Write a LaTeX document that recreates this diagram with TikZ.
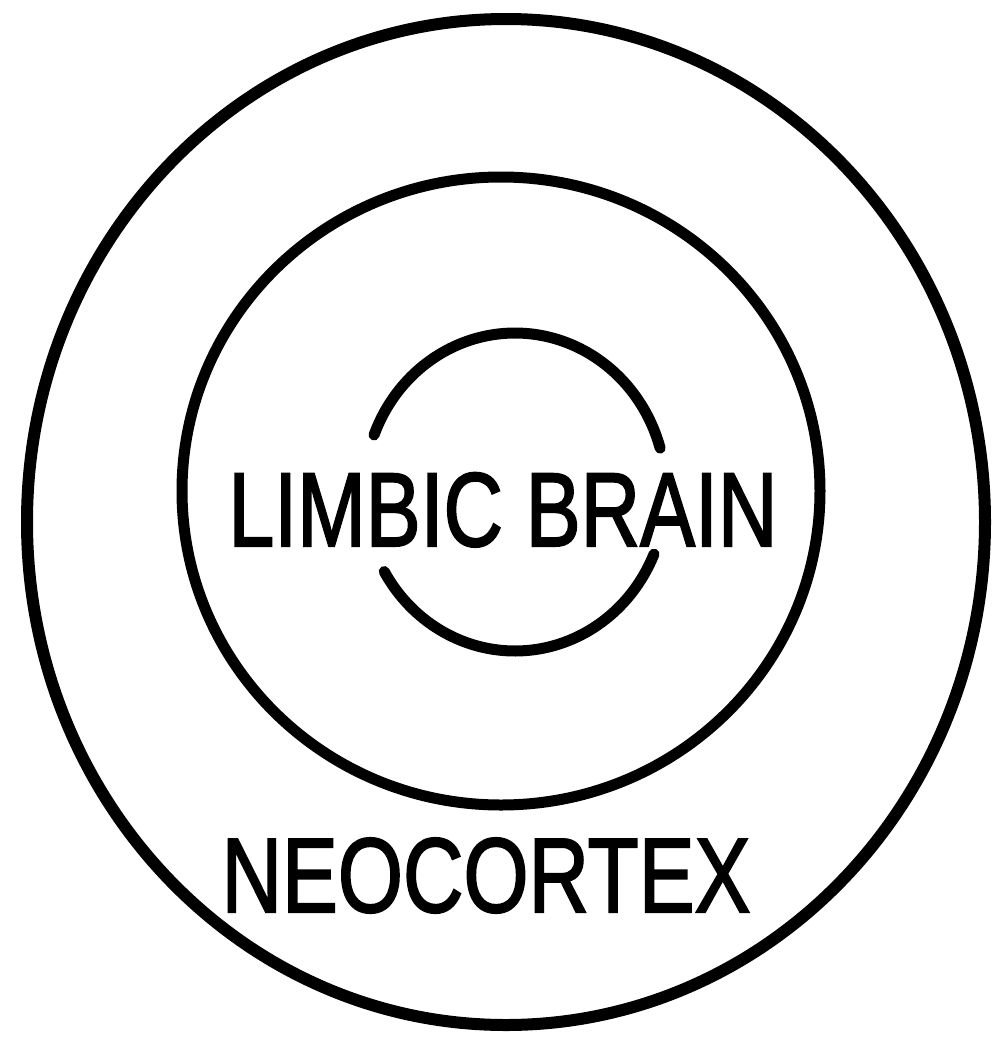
\documentclass[tikz,border=0pt]{standalone}
\usepackage{fontspec}
\setmainfont{Liberation Sans}
\newfontfamily\handfont{Liberation Sans}[FakeBold=2]
\begin{document}
\begin{tikzpicture}[x=1pt,y=-1pt,
  ring/.style={draw=black, line width=#1, line cap=round, line join=round},
  label/.style={anchor=base, inner sep=0pt, text=black}]
\useasboundingbox (0,0) rectangle (999,1037);
% outer ring (neocortex)
\draw[ring=12pt] (506,522) ellipse [x radius=479, y radius=503];
% middle ring
\draw[ring=11pt] (501,491) ellipse [x radius=319, y radius=314];
% inner ring, broken at left and right by the text
\draw[ring=11pt] plot[domain=201:344, samples=60, smooth] ({515+151*cos(\x)},{492+159*sin(\x)});
\draw[ring=11pt] plot[domain=23:150, samples=60, smooth] ({515+151*cos(\x)},{492+159*sin(\x)});
% labels
\node[label] (limbic) at (503,546) {\scalebox{0.784}[1]{\handfont\fontsize{105}{110}\selectfont LIMBIC BRAIN}};
\node[label] (neo) at (486,912) {\scalebox{0.79}[1]{\handfont\fontsize{106}{110}\selectfont NEOCORTEX}};
\end{tikzpicture}
\end{document}
